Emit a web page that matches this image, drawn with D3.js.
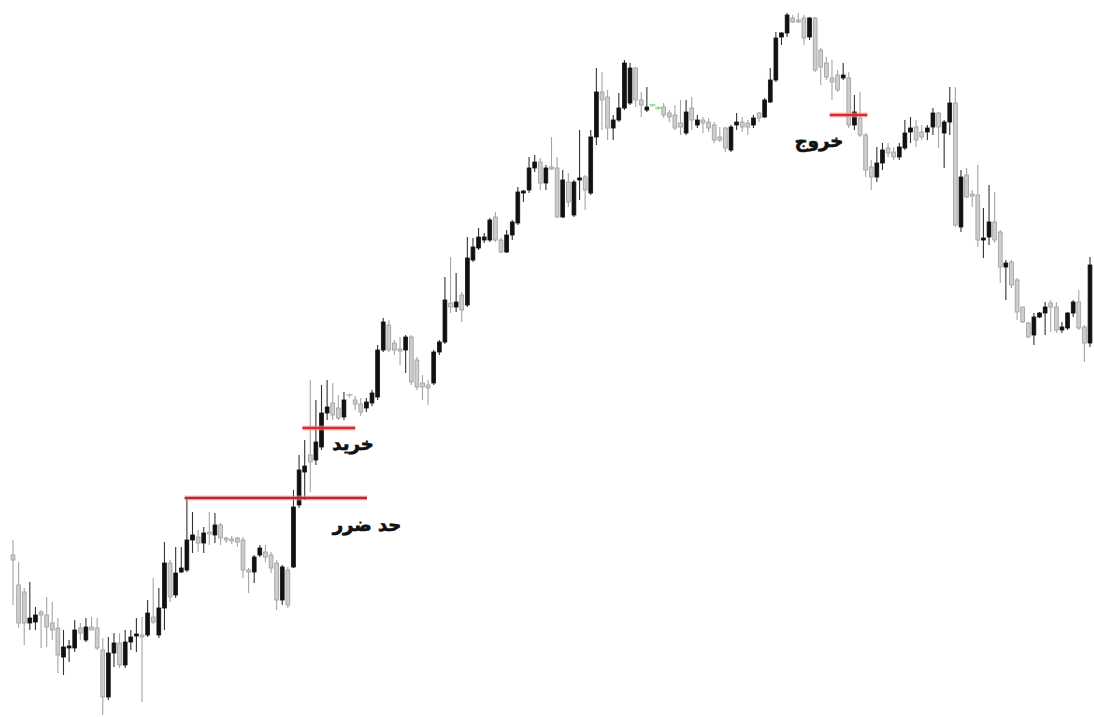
<!DOCTYPE html>
<html>
<head>
<meta charset="utf-8">
<script src="https://cdn.jsdelivr.net/npm/d3@7"></script>
<style>
html,body{margin:0;padding:0;background:#fff;}
svg{display:block;}
</style>
</head>
<body>
<svg id="chart" width="1094" height="717"></svg>
<script>
// ---- data (price units, arbitrary scale) ----
const opens = [165,135,128,97,98,108,105,97,92,63,72,72,92,80,93,92,70,23,67,77,55,78,84,85,85,103,85,112,157,125,148,150,180,183,177,188,185,195,182,181,182,180,150,148,165,168,165,157,120,150,153,215,248,265,260,273,307,317,312,303,325,320,316,312,317,323,370,395,377,371,370,383,360,337,335,337,368,378,417,413,425,415,460,472,480,480,503,480,468,485,497,527,530,552,558,537,553,552,503,538,505,540,543,527,583,628,623,592,600,612,617,652,620,610,615,612,613,607,605,597,587,612,595,600,598,595,583,592,570,595,598,597,595,607,603,618,640,683,687,702,700,702,683,702,670,657,642,645,642,642,595,602,585,553,543,557,572,568,563,572,588,593,588,588,593,607,587,598,617,493,545,526,525,480,483,498,488,453,458,440,413,397,385,403,407,417,413,390,392,407,418,393,377];
const highs = [180,158,132,138,113,110,123,118,102,90,80,100,97,102,103,102,82,83,87,87,90,90,102,103,120,142,132,178,160,173,173,222,208,190,193,208,207,197,183,184,183,183,152,165,175,175,168,160,155,153,230,265,280,340,320,335,340,337,325,328,327,324,322,322,330,375,402,400,380,383,385,385,363,345,340,370,380,443,463,447,428,483,482,492,487,502,508,482,490,500,533,530,563,565,562,555,583,563,550,547,540,590,545,590,652,648,630,605,627,660,657,653,628,633,616,614,617,610,615,620,620,623,605,603,602,598,593,593,595,607,603,600,605,608,622,652,688,688,707,705,707,705,703,703,672,663,660,650,657,648,625,628,587,560,573,577,577,573,577,600,603,600,595,595,612,608,600,633,633,550,552,530,555,512,535,528,490,460,460,442,413,398,407,408,418,420,418,398,408,420,430,395,463];
const lows  = [115,92,75,90,90,72,73,80,47,45,58,68,80,78,90,70,5,20,53,52,52,70,68,18,83,96,82,90,118,122,147,148,167,168,167,175,177,175,177,176,173,142,127,137,163,158,147,110,115,112,152,212,220,228,255,270,300,300,300,300,322,310,304,308,314,320,368,368,365,355,347,335,330,320,315,335,365,376,407,408,398,413,458,470,477,478,478,467,467,480,495,518,527,548,530,530,550,502,502,513,503,520,510,525,575,590,580,580,598,610,615,613,603,608,613,610,602,598,590,585,585,590,592,587,588,577,578,568,568,590,588,585,592,598,602,617,638,675,683,697,697,675,680,648,635,640,620,628,640,592,590,583,543,530,538,550,563,560,560,570,577,573,580,580,585,572,552,585,493,488,522,513,473,462,475,477,437,420,432,400,397,382,375,402,385,388,387,387,390,403,390,358,373];
const closes= [160,97,97,102,105,105,93,90,65,73,74,90,87,93,90,72,23,67,77,55,78,83,86,83,107,98,112,157,123,147,152,180,185,177,187,186,195,182,180,179,178,150,148,163,172,163,152,120,153,115,213,250,254,258,278,307,313,305,302,320,325,316,308,318,327,370,398,370,370,369,383,338,333,333,332,368,378,420,413,418,410,462,473,483,483,500,480,468,485,498,528,529,552,558,537,552,551,503,540,518,538,542,530,583,628,620,592,600,612,657,652,620,615,613,615,612,605,603,592,593,608,600,600,597,592,580,580,572,593,598,593,593,602,602,620,640,682,687,705,698,698,682,702,650,653,643,638,630,645,595,608,585,550,543,557,570,567,563,573,587,592,580,583,592,607,593,598,617,495,543,523,524,480,482,498,480,453,457,435,408,398,383,403,407,413,413,390,393,407,418,392,377,455];

// annotation levels: [label, price level, from candle index, to candle index]
const levelLabels = ["حد ضرر", "خرید", "خروج"];
const levelPrices = [222, 292, 605];
const levelFrom   = [30.6, 51.6, 145.6];
const levelTo     = [63.1, 61.0, 152.3];

// ---- drawing ----
const svg = d3.select("#chart");
const n = closes.length;
const x = d3.scaleLinear().domain([0, n - 1]).range([13, 1090]);
const y = d3.scaleLinear().domain([0, 720]).range([720, 0]);
const bw = 3.8;

const data = d3.range(n).map(i => ({i, o: opens[i], h: highs[i], l: lows[i], c: closes[i]}));
const kind = d => d.c > d.o ? "up" : (d.c < d.o ? "down" : "flat");
const wickCol = {up: "#333", down: "#a4a4a4", flat: "#9fd39a"};

const g = svg.append("g");
g.selectAll("line.wick").data(data).join("line")
  .attr("class", "wick")
  .attr("x1", d => x(d.i)).attr("x2", d => x(d.i))
  .attr("y1", d => y(d.h)).attr("y2", d => y(d.l))
  .attr("stroke", d => wickCol[kind(d)])
  .attr("stroke-width", 1.1);

g.selectAll("rect.body").data(data.filter(d => kind(d) !== "flat")).join("rect")
  .attr("class", "body")
  .attr("x", d => x(d.i) - bw / 2)
  .attr("width", bw)
  .attr("y", d => y(Math.max(d.o, d.c)))
  .attr("height", d => Math.max(1.5, Math.abs(y(d.o) - y(d.c))))
  .attr("fill", d => kind(d) === "up" ? "#111" : "#cdcdcd")
  .attr("stroke", d => kind(d) === "up" ? "#111" : "#9c9c9c")
  .attr("stroke-width", 0.8);

g.selectAll("line.flat").data(data.filter(d => kind(d) === "flat")).join("line")
  .attr("class", "flat")
  .attr("x1", d => x(d.i) - 3).attr("x2", d => x(d.i) + 3)
  .attr("y1", d => y(d.o)).attr("y2", d => y(d.o))
  .attr("stroke", "#8fcf88").attr("stroke-width", 1.5);

// level lines
const lineCols = ["#b8263a", "#e3262b", "#e3262b"];
const halo = svg.append("g");
levelPrices.forEach((p, k) => {
  halo.append("line")
    .attr("x1", x(levelFrom[k])).attr("x2", x(levelTo[k]))
    .attr("y1", y(p)).attr("y2", y(p))
    .attr("stroke", "#f2a0a8").attr("stroke-width", 5).attr("opacity", 0.6);
  halo.append("line")
    .attr("x1", x(levelFrom[k])).attr("x2", x(levelTo[k]))
    .attr("y1", y(p)).attr("y2", y(p))
    .attr("stroke", lineCols[k]).attr("stroke-width", 2.6);
});

// labels
const labelPos = [[367, 531], [353, 450], [819, 147]];
svg.selectAll("text.lbl").data(levelLabels).join("text")
  .attr("class", "lbl")
  .attr("x", (d, k) => labelPos[k][0])
  .attr("y", (d, k) => labelPos[k][1])
  .attr("text-anchor", "middle")
  .attr("direction", "rtl")
  .attr("font-family", "'DejaVu Sans', 'Noto Sans', sans-serif")
  .attr("font-weight", "bold")
  .attr("font-size", 18)
  .attr("fill", "#111")
  .attr("stroke", "#111")
  .attr("stroke-width", 0.7)
  .text(d => d);
</script>
</body>
</html>
